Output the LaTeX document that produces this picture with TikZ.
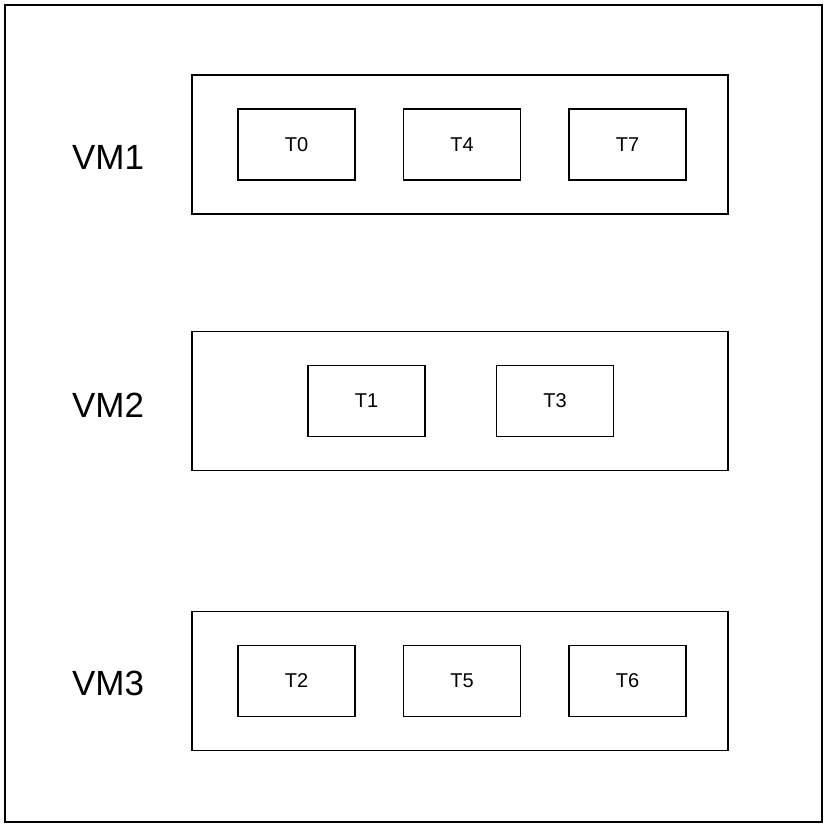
\documentclass[tikz,border=0pt]{standalone}
\usepackage{fontspec}
\setmainfont{Liberation Sans}
\usetikzlibrary{positioning}
\tikzset{
    vmbox/.style={draw,line width=1.5pt,minimum width=536pt,minimum height=139pt},
    task/.style={draw,line width=1.5pt,minimum width=117pt,minimum height=71pt,font=\fontsize{20}{24}\selectfont},
    vmlabel/.style={font=\fontsize{35}{40}\selectfont}
}
\begin{document}
\begin{tikzpicture}[x=1pt,y=-1pt]
    \useasboundingbox (0,0) rectangle (826,826);
    \draw[line width=1.5pt] (5,5) rectangle (822,822);

    \node[vmbox] (vm1) at (460,144.5) {};
    \node[vmbox] (vm2) at (460,401) {};
    \node[vmbox] (vm3) at (460,681) {};

    \node[vmlabel] (l1) at (108,157) {VM1};
    \node[vmlabel] (l2) at (108,405) {VM2};
    \node[vmlabel] (l3) at (108,683) {VM3};

    \node[task] (t0) at (296.5,144.5) {T0};
    \node[task] (t4) [right=47pt of t0] {T4};
    \node[task] (t7) [right=47pt of t4] {T7};

    \node[task] (t1) at (366.5,401) {T1};
    \node[task] (t3) [right=70pt of t1] {T3};

    \node[task] (t2) at (296.5,681) {T2};
    \node[task] (t5) [right=47pt of t2] {T5};
    \node[task] (t6) [right=47pt of t5] {T6};
\end{tikzpicture}
\end{document}
